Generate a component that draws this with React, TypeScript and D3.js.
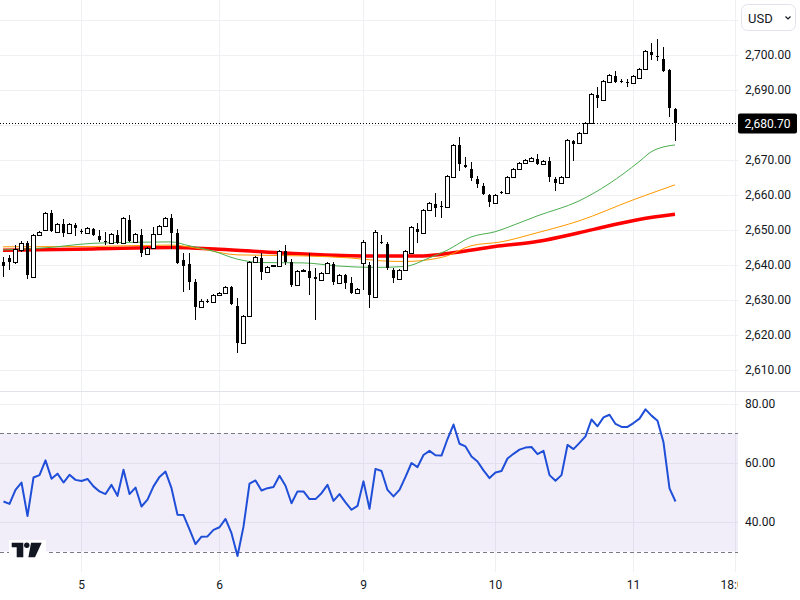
import * as React from 'react';
import * as d3 from 'd3';

// hourly candles
const opens = [
  2640.9, 2642.0, 2640.9, 2644.3, 2646.3, 2636.6, 2648.6, 2650.0, 2654.9, 2649.5,
  2651.7, 2649.2, 2651.5, 2649.7, 2649.2, 2650.3, 2648.3, 2647.0, 2646.3, 2648.6,
  2646.3, 2652.9, 2646.6, 2648.6, 2643.2, 2644.9, 2648.9, 2651.2, 2653.5, 2649.2,
  2641.5, 2640.3, 2635.2, 2628.0, 2629.7, 2629.5, 2631.5, 2632.0, 2633.7, 2628.3,
  2617.7, 2625.5, 2640.9, 2642.0, 2638.0, 2639.6, 2639.7, 2644.0, 2640.9, 2634.3,
  2638.5, 2638.3, 2636.6, 2635.7, 2637.7, 2640.3, 2634.9, 2637.2, 2634.9, 2632.0,
  2640.6, 2640.0, 2630.9, 2646.7, 2646.0, 2638.6, 2636.0, 2638.6, 2643.5, 2650.3,
  2649.2, 2655.7, 2657.5, 2656.9, 2656.6, 2665.2, 2674.3, 2668.6, 2667.5, 2664.6,
  2662.6, 2660.0, 2657.7, 2660.9, 2660.6, 2665.2, 2667.5, 2669.2, 2669.7, 2670.3,
  2668.9, 2669.7, 2664.6, 2663.5, 2665.2, 2675.5, 2674.9, 2677.7, 2680.6, 2688.6,
  2687.2, 2692.3, 2694.0, 2692.7, 2692.2, 2692.0, 2693.5, 2696.0, 2700.9, 2699.7,
  2698.9, 2695.7, 2684.6,
];
const highs = [
  2642.3, 2642.9, 2645.7, 2646.9, 2646.9, 2648.9, 2649.7, 2655.2, 2655.7, 2652.0,
  2653.2, 2652.0, 2652.0, 2650.3, 2650.9, 2650.6, 2650.0, 2649.5, 2649.2, 2650.0,
  2653.7, 2654.3, 2649.2, 2650.3, 2645.2, 2650.9, 2651.5, 2653.7, 2654.6, 2650.3,
  2643.5, 2643.5, 2636.0, 2630.3, 2630.3, 2631.7, 2632.3, 2634.0, 2634.0, 2630.6,
  2625.7, 2641.2, 2642.6, 2643.5, 2639.7, 2640.0, 2644.3, 2645.7, 2641.7, 2638.6,
  2638.9, 2643.5, 2639.2, 2638.0, 2640.9, 2640.9, 2637.5, 2637.5, 2636.6, 2633.5,
  2647.2, 2640.9, 2650.0, 2648.6, 2646.6, 2639.2, 2638.9, 2644.3, 2651.2, 2652.0,
  2656.0, 2658.0, 2660.6, 2658.3, 2665.7, 2674.6, 2676.6, 2670.9, 2669.5, 2665.5,
  2663.5, 2660.3, 2660.3, 2661.2, 2665.5, 2667.7, 2669.5, 2670.3, 2670.9, 2671.7,
  2670.0, 2670.9, 2665.2, 2665.5, 2676.0, 2675.7, 2678.0, 2680.9, 2689.2, 2690.9,
  2692.9, 2694.6, 2695.5, 2693.2, 2693.2, 2694.3, 2696.3, 2701.5, 2703.5, 2704.6,
  2702.3, 2696.0, 2684.9,
];
const lows = [
  2636.6, 2638.6, 2640.3, 2643.7, 2636.0, 2636.3, 2648.3, 2649.7, 2649.5, 2649.2,
  2648.0, 2648.9, 2648.3, 2648.9, 2648.9, 2648.3, 2646.6, 2645.7, 2646.0, 2646.0,
  2646.0, 2646.6, 2646.3, 2642.3, 2642.9, 2644.6, 2648.6, 2650.9, 2644.6, 2640.3,
  2632.3, 2632.9, 2624.3, 2627.7, 2629.2, 2629.2, 2631.2, 2631.7, 2628.6, 2614.9,
  2617.5, 2625.2, 2640.6, 2635.7, 2637.7, 2639.5, 2639.5, 2640.0, 2633.7, 2634.0,
  2638.3, 2631.5, 2624.3, 2635.5, 2637.5, 2634.3, 2634.6, 2633.2, 2631.7, 2631.7,
  2632.9, 2627.7, 2630.6, 2646.0, 2638.6, 2634.9, 2635.7, 2638.3, 2643.2, 2646.3,
  2648.9, 2655.5, 2653.7, 2653.5, 2656.3, 2664.9, 2666.9, 2667.7, 2664.0, 2662.0,
  2660.0, 2656.6, 2657.5, 2660.3, 2660.3, 2664.9, 2667.2, 2668.9, 2669.5, 2668.6,
  2668.6, 2663.7, 2661.2, 2663.2, 2664.9, 2669.7, 2674.6, 2677.5, 2680.3, 2684.9,
  2686.9, 2692.0, 2692.0, 2692.0, 2690.9, 2691.7, 2693.2, 2695.7, 2698.6, 2698.3,
  2695.2, 2682.3, 2675.5,
];
const closes = [
  2639.7, 2640.9, 2644.6, 2646.3, 2637.2, 2648.6, 2649.5, 2654.9, 2649.7, 2651.7,
  2649.2, 2651.7, 2650.6, 2649.5, 2650.6, 2648.6, 2647.2, 2646.7, 2648.9, 2646.3,
  2653.5, 2646.9, 2648.9, 2643.5, 2644.9, 2648.9, 2651.2, 2653.5, 2649.2, 2640.6,
  2639.7, 2635.2, 2628.0, 2629.7, 2629.5, 2631.5, 2632.0, 2633.7, 2628.9, 2617.7,
  2625.5, 2640.9, 2642.3, 2638.0, 2639.5, 2639.9, 2644.0, 2640.9, 2634.3, 2638.3,
  2638.7, 2636.3, 2636.0, 2637.7, 2640.6, 2635.2, 2637.2, 2634.9, 2632.0, 2633.2,
  2646.6, 2631.5, 2649.5, 2646.5, 2639.2, 2636.3, 2638.6, 2644.0, 2650.9, 2649.5,
  2655.7, 2657.7, 2656.3, 2656.6, 2665.5, 2674.3, 2668.9, 2668.0, 2664.9, 2663.2,
  2660.3, 2658.0, 2660.0, 2660.6, 2665.2, 2667.5, 2669.2, 2670.0, 2670.6, 2668.9,
  2669.7, 2665.2, 2663.5, 2665.2, 2675.7, 2674.6, 2677.7, 2680.6, 2688.9, 2687.7,
  2692.6, 2694.3, 2692.3, 2692.5, 2691.9, 2694.0, 2696.0, 2701.2, 2700.0, 2699.5,
  2695.5, 2684.9, 2680.7,
];

const rsiValues = [
  46.9, 46.1, 50.8, 53.3, 42.0, 55.0, 55.8, 60.8, 54.6, 56.3,
  53.3, 55.9, 54.2, 53.8, 54.5, 52.0, 50.3, 49.4, 52.5, 48.8,
  57.6, 49.4, 51.6, 45.2, 47.5, 52.0, 55.2, 57.0, 51.4, 42.4,
  42.3, 37.5, 32.5, 35.0, 35.1, 37.3, 38.2, 41.0, 36.2, 28.5,
  38.4, 52.9, 54.0, 50.6, 51.4, 51.8, 55.6, 52.2, 46.3, 50.3,
  50.3, 47.7, 47.7, 49.7, 52.5, 47.1, 49.4, 46.6, 44.1, 45.4,
  53.7, 44.4, 57.9, 57.2, 50.8, 48.6, 50.8, 55.2, 59.9, 58.5,
  62.6, 64.0, 62.5, 62.4, 68.0, 72.9, 66.4, 65.5, 62.1, 60.4,
  57.4, 54.8, 56.7, 57.2, 61.4, 63.0, 64.4, 65.1, 65.3, 62.9,
  64.0, 55.8, 53.9, 55.8, 66.0, 64.6, 66.7, 68.9, 74.6, 72.3,
  75.3, 76.2, 73.1, 72.1, 72.1, 73.4, 74.9, 78.0, 75.9, 74.2,
  66.9, 51.3, 46.9,
];

// moving averages, sampled at bar indices
const maSlowIdx = [0, 15, 28, 36, 46, 60, 70, 75, 82, 89, 96, 101, 106, 112];
const maSlowVals = [2644.2, 2644.6, 2645.0, 2644.5, 2643.5, 2642.6, 2642.6, 2643.5, 2645.3, 2646.7, 2649.2, 2651.2, 2653.0, 2654.5];
const maMidIdx = [0, 15, 28, 33, 39, 50, 58, 63, 67, 70, 74, 78, 83, 89, 96, 105, 112];
const maMidVals = [2645.2, 2645.3, 2645.7, 2644.6, 2642.9, 2642.6, 2642.0, 2641.2, 2641.0, 2641.3, 2642.6, 2645.5, 2646.6, 2649.2, 2652.6, 2658.6, 2662.9];
const maFastIdx = [0, 7, 15, 22, 28, 31, 35, 39, 43, 50, 56, 62, 67, 71, 74, 78, 82, 86, 89, 96, 101, 106, 108, 110, 112];
const maFastVals = [2644.3, 2644.9, 2646.2, 2646.5, 2646.6, 2645.5, 2644.0, 2641.7, 2640.7, 2640.6, 2639.7, 2639.3, 2639.6, 2642.0, 2644.2, 2648.0, 2649.5, 2652.0, 2654.0, 2658.3, 2663.2, 2669.5, 2672.3, 2673.7, 2674.3];

const priceTicks = [2610, 2620, 2630, 2640, 2650, 2660, 2670, 2680, 2690, 2700];
const priceGrid = [2610, 2620, 2630, 2640, 2650, 2660, 2670, 2680, 2690, 2700, 2710];
const rsiTicks = [40, 60, 80];
const rsiBand = [30, 70];
const timeTickIdx = [13, 36, 60, 82, 105, 122];
const timeTickLabels = ['5', '6', '9', '10', '11', '18:00'];
const lastPrice = 2680.7;

const W = 800;
const H = 600;
const PLOT_W = 738;
const FONT = 'Roboto, "Noto Sans", sans-serif';
const TEXT = '#131722';
const GRID = '#eef0f3';

export default function App() {
  const x = d3.scaleLinear().domain([0, 112]).range([3, 675]);
  const y = d3.scaleLinear().domain([2610, 2700]).range([370, 55]);
  const yr = d3.scaleLinear().domain([30, 80]).range([551.5, 403.5]);
  const fmt = d3.format(',.2f');

  const maLine = (idx: number[]) =>
    d3.line<number>()
      .x((_, k) => x(idx[k]))
      .y((d) => y(d))
      .curve(d3.curveMonotoneX);

  const rsiLine = d3.line<number>()
    .x((_, i) => x(i) + 0.5)
    .y((d) => yr(d));

  return (
    <div style={{ position: 'absolute', left: 0, top: 0 }}>
      <svg width={W} height={H} style={{ display: 'block', background: '#fff' }} fontFamily={FONT}>
        <defs>
          <clipPath id="plot">
            <rect x={0} y={0} width={PLOT_W} height={H} />
          </clipPath>
        </defs>

        {/* grid */}
        {priceGrid.map((p) => (
          <line key={p} x1={0} x2={PLOT_W} y1={Math.round(y(p)) + 0.5} y2={Math.round(y(p)) + 0.5} stroke={GRID} />
        ))}
        {rsiTicks.map((v) => (
          <line key={v} x1={0} x2={PLOT_W} y1={Math.round(yr(v)) + 0.5} y2={Math.round(yr(v)) + 0.5} stroke={GRID} />
        ))}
        {timeTickIdx.map((i) => (
          <line key={i} x1={x(i) + 0.5} x2={x(i) + 0.5} y1={0} y2={572} stroke={GRID} />
        ))}

        {/* pane separator */}
        <line x1={0} x2={W} y1={391.5} y2={391.5} stroke="#e0e3eb" />

        <g clipPath="url(#plot)">
          {/* moving averages */}
          <path d={maLine(maSlowIdx)(maSlowVals) || ''} fill="none" stroke="#ff0000" strokeWidth={3.5} />
          <path d={maLine(maMidIdx)(maMidVals) || ''} fill="none" stroke="#ff9800" strokeWidth={1} />
          <path d={maLine(maFastIdx)(maFastVals) || ''} fill="none" stroke="#4caf50" strokeWidth={1} />

          {/* candles */}
          {closes.map((c, i) => {
            const o = opens[i];
            const cx = x(i) + 0.5;
            const top = Math.round(y(Math.max(o, c)));
            const bot = Math.round(y(Math.min(o, c)));
            const up = c >= o;
            return (
              <g key={i}>
                <line x1={cx} x2={cx} y1={Math.round(y(highs[i]))} y2={Math.round(y(lows[i]))} stroke="#000" />
                {up ? (
                  <rect x={x(i) - 1.5} y={top + 0.5} width={4} height={Math.max(bot - top, 1)} fill="#fff" stroke="#000" />
                ) : (
                  <rect x={x(i) - 1} y={top} width={3} height={Math.max(bot - top, 1)} fill="#000" />
                )}
              </g>
            );
          })}

          {/* last price line */}
          <line x1={0} x2={PLOT_W} y1={Math.round(y(lastPrice)) + 0.5} y2={Math.round(y(lastPrice)) + 0.5}
            stroke="#000" strokeDasharray="1,2" />

          {/* RSI band */}
          <rect x={0} y={yr(70)} width={PLOT_W} height={yr(30) - yr(70)} fill="rgba(126,87,194,0.1)" />
          {rsiBand.map((v) => (
            <line key={v} x1={0} x2={PLOT_W} y1={Math.round(yr(v)) + 0.5} y2={Math.round(yr(v)) + 0.5}
              stroke="#787b86" strokeDasharray="4,3" />
          ))}
          <path d={rsiLine(rsiValues) || ''} fill="none" stroke="#1f4fd8" strokeWidth={2} strokeLinejoin="round" />

          {/* time axis */}
          {timeTickIdx.map((i, k) => (
            <text key={i} x={x(i) + 0.5} y={585} textAnchor="middle" dominantBaseline="central" fontSize={12} fill={TEXT}>
              {timeTickLabels[k]}
            </text>
          ))}
        </g>

        {/* price axis */}
        {priceTicks.map((p) => (
          <text key={p} x={745} y={y(p)} dominantBaseline="central" fontSize={12} fill={TEXT}>
            {fmt(p)}
          </text>
        ))}
        <rect x={738} y={Math.round(y(lastPrice)) - 9.5} width={59} height={20} rx={2} fill="#000" />
        <text x={767.5} y={y(lastPrice) + 1} textAnchor="middle" dominantBaseline="central" fontSize={12} fill="#fff">
          {fmt(lastPrice)}
        </text>

        {/* currency selector */}
        <rect x={741.5} y={4.5} width={54} height={26} rx={6} fill="#fff" stroke="#e0e3eb" />
        <text x={748} y={18} dominantBaseline="central" fontSize={13} fill={TEXT}>USD</text>
        <path d="M785.5,16.5 l2.5,2.5 l2.5,-2.5" fill="none" stroke={TEXT} strokeWidth={1.2} />

        {/* RSI axis */}
        {rsiTicks.map((v) => (
          <text key={v} x={745} y={yr(v)} dominantBaseline="central" fontSize={12} fill={TEXT}>
            {v.toFixed(2)}
          </text>
        ))}

        {/* logo */}
        <rect x={9} y={540} width={37} height={20} fill="#fff" />
        <path d="M11.7,542.7 H23.3 V557.3 H16.7 V547.3 H11.7 Z" fill={TEXT} />
        <circle cx={26.8} cy={545.3} r={2.7} fill={TEXT} />
        <path d="M31,542.7 H41.7 L35,557.3 H28.4 Z" fill={TEXT} />
      </svg>
    </div>
  );
}
